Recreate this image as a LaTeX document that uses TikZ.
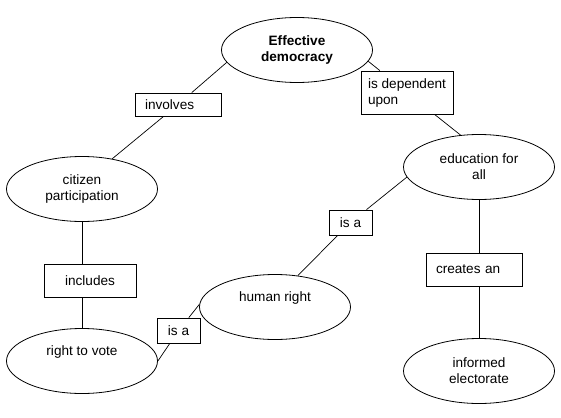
\documentclass[tikz,border=0pt]{standalone}
\usepackage{fontspec}
\setmainfont{Liberation Sans}
\usetikzlibrary{shapes.geometric, positioning}
\newcommand{\mapfont}{\fontsize{13.6}{16}\selectfont}

\begin{document}
\begin{tikzpicture}[
    x=1pt, y=-1pt,
    concept/.style={ellipse, draw, line width=0.8pt, minimum width=151pt, minimum height=65pt, inner sep=0pt, align=center, font=\mapfont},
    oneline/.style={text height=10pt, text depth=22pt},
    linkbox/.style={rectangle, draw, fill=white, line width=0.8pt, inner xsep=5pt, inner ysep=0pt, align=center, font=\mapfont},
    conn/.style={line width=0.7pt}
]
\useasboundingbox (0,0) rectangle (561,417);

% Concepts
\node[concept, font=\mapfont\bfseries] (democracy) at (297,50) {Effective\\democracy};
\node[concept] (citizen) at (82,189) {citizen\\participation};
\node[concept, oneline] (vote) at (82,361) {right to vote};
\node[concept, oneline] (human) at (275,307) {human right};
\node[concept] (education) at (479,167) {education for\\all};
\node[concept] (electorate) at (479,371) {informed\\electorate};

% Linking phrases
\node[linkbox, minimum width=86pt, minimum height=23pt, text width=66pt, inner xsep=10pt, align=left] (involves) at (178,104.5) {involves};
\node[linkbox, minimum width=92pt, minimum height=43pt, inner xsep=2pt, align=left] (depends) at (407,92.5) {is dependent\\upon};
\node[linkbox, minimum width=92pt, minimum height=33pt] (includes) at (90,280.5) {includes};
\node[linkbox, minimum width=43pt, minimum height=25pt] (isaleft) at (178.5,330.5) {is a};
\node[linkbox, minimum width=43pt, minimum height=25pt] (isaright) at (350.5,222.5) {is a};
\node[linkbox, minimum width=96pt, minimum height=33pt, text width=76pt, inner xsep=10pt, align=left] (creates) at (474,269.5) {creates an};

% Connections
\draw[conn] (democracy.190) -- (involves) -- (citizen.45);
\draw[conn] (democracy.-9) -- (depends) -- (education.120);
\draw[conn] (citizen.south) -- (citizen.south |- includes.north) (citizen.south |- includes.south) -- (vote.north);
\draw[conn] (vote.0) -- (isaleft) -- (human.178);
\draw[conn] (human.54) -- (isaright) -- (education.188);
\draw[conn] (education.south) -- (education.south |- creates.north) (education.south |- creates.south) -- (electorate.north);

\end{tikzpicture}
\end{document}
